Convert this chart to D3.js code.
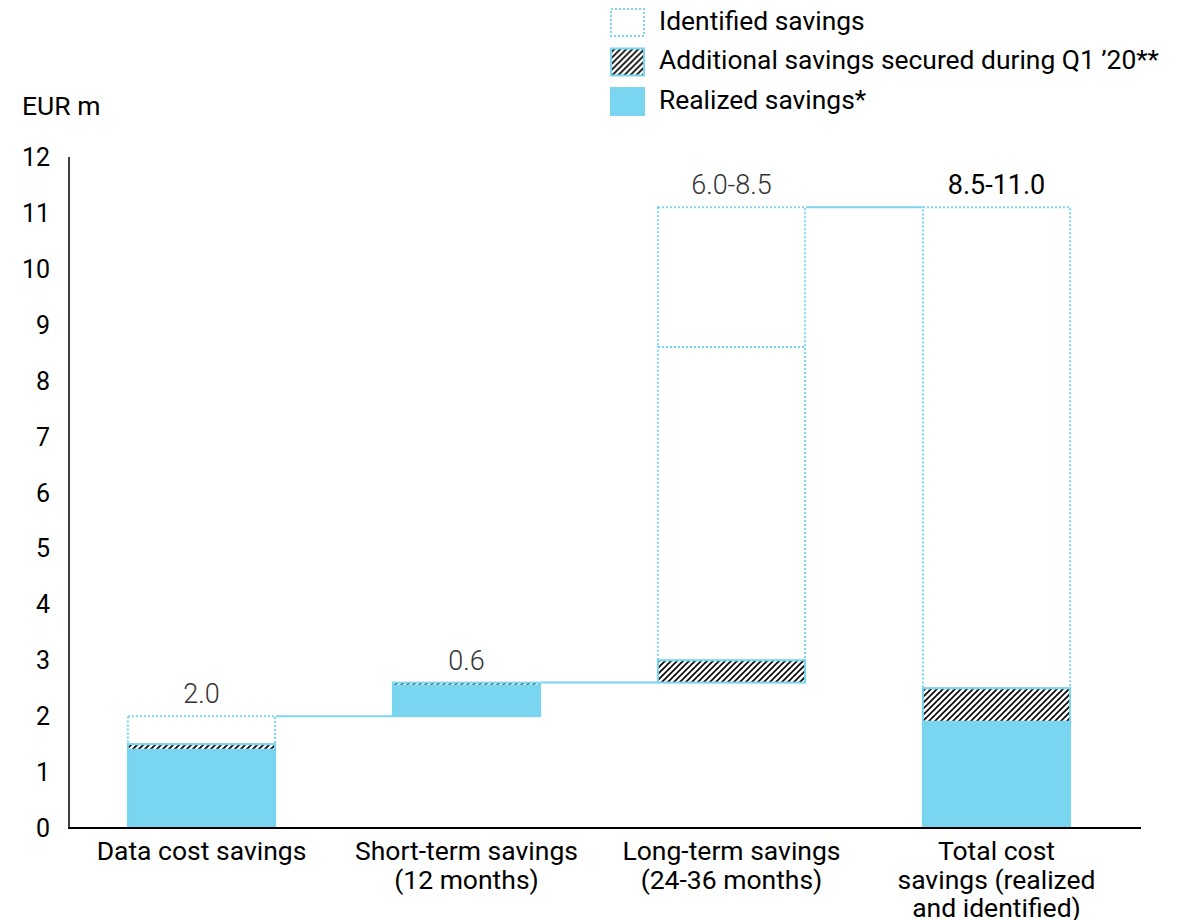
<!DOCTYPE html>
<html>
<head>
<meta charset="utf-8">
<script src="https://cdn.jsdelivr.net/npm/d3@7"></script>
<style>
  html, body { margin: 0; padding: 0; background: #fff; }
  svg { display: block; font-family: Roboto, "Noto Sans", sans-serif; }
</style>
</head>
<body>
<svg id="chart" width="1185" height="920"></svg>
<script>
// Cost savings bridge, EUR m
const categories = [
  ["Data cost savings"],
  ["Short-term savings", "(12 months)"],
  ["Long-term savings", "(24-36 months)"],
  ["Total cost", "savings (realized", "and identified)"]
];
const bases       = [0, 2.0, 2.6, 0];     // floating start of each bar
const realized    = [1.4, 0.55, 0, 1.9];  // realized savings*
const additional  = [0.1, 0.05, 0.4, 0.6];// additional savings secured during Q1 '20**
const identified  = [0.5, 0, 5.6, 8.6];   // identified savings (lower bound part)
const rangeUpper  = [0, 0, 2.5, 0];       // identified range on top of the lower bound
const valueLabels = ["2.0", "0.6", "6.0-8.5", "8.5-11.0"];
const yTicks      = [0, 1, 2, 3, 4, 5, 6, 7, 8, 9, 10, 11, 12];

const legendItems = [
  { key: "identified", label: "Identified savings" },
  { key: "additional", label: "Additional savings secured during Q1 \u201920**" },
  { key: "realized",   label: "Realized savings*" }
];

const BLUE = "#79d5f0";

const svg = d3.select("#chart");

const y = d3.scaleLinear().domain([0, 12]).range([828, 157]);
const x = d3.scaleBand()
  .domain(d3.range(categories.length))
  .range([69, 1129])
  .paddingInner(0.437)
  .paddingOuter(0.2185);

// hatch pattern
const defs = svg.append("defs");
const pat = defs.append("pattern")
  .attr("id", "hatch")
  .attr("patternUnits", "userSpaceOnUse")
  .attr("width", 6).attr("height", 6);
pat.append("rect").attr("width", 6).attr("height", 6).attr("fill", "#fff");
pat.append("path")
  .attr("d", "M-1,1 l2,-2 M0,6 l6,-6 M5,7 l2,-2")
  .attr("stroke", "#000").attr("stroke-width", 1.6);

// segments computed from data
const segs = [];
categories.forEach((c, i) => {
  let v = bases[i];
  if (realized[i] > 0) { segs.push({ i, y0: v, y1: v + realized[i], type: "realized" }); v += realized[i]; }
  if (additional[i] > 0) { segs.push({ i, y0: v, y1: v + additional[i], type: "additional" }); v += additional[i]; }
  if (identified[i] > 0) { segs.push({ i, y0: v, y1: v + identified[i], type: "identified" }); v += identified[i]; }
  if (rangeUpper[i] > 0) { segs.push({ i, y0: v, y1: v + rangeUpper[i], type: "identified" }); v += rangeUpper[i]; }
});
const tops = categories.map((c, i) => bases[i] + realized[i] + additional[i] + identified[i] + rangeUpper[i]);

// connectors between bars
const connG = svg.append("g");
for (let i = 0; i < categories.length - 1; i++) {
  connG.append("line")
    .attr("x1", x(i) + x.bandwidth()).attr("x2", x(i + 1))
    .attr("y1", y(tops[i])).attr("y2", y(tops[i]))
    .attr("stroke", BLUE).attr("stroke-width", 2);
}

const barG = svg.append("g");
segs.forEach(s => {
  const r = barG.append("rect")
    .attr("x", x(s.i) + 1)
    .attr("width", x.bandwidth() - 2)
    .attr("y", y(s.y1))
    .attr("height", y(s.y0) - y(s.y1));
  if (s.type === "realized") {
    r.attr("fill", BLUE).attr("stroke", BLUE).attr("stroke-width", 2);
  } else if (s.type === "additional") {
    r.attr("fill", "url(#hatch)").attr("stroke", BLUE).attr("stroke-width", 2);
  } else {
    r.attr("fill", "none").attr("stroke", BLUE).attr("stroke-width", 2)
      .attr("stroke-dasharray", "2,2");
  }
});

// value labels
svg.append("g").selectAll("text")
  .data(valueLabels)
  .join("text")
  .attr("x", (d, i) => x(i) + x.bandwidth() / 2)
  .attr("y", (d, i) => y(tops[i]) - 13)
  .attr("text-anchor", "middle")
  .attr("font-size", 27)
  .attr("font-weight", (d, i) => i === 3 ? 400 : 300)
  .attr("fill", (d, i) => i === 3 ? "#000" : "#333")
  .text(d => d);

// axes
svg.append("line")
  .attr("x1", 69).attr("x2", 69)
  .attr("y1", y(12)).attr("y2", y(0))
  .attr("stroke", "#000").attr("stroke-width", 1.5);
svg.append("line")
  .attr("x1", 68).attr("x2", 1141)
  .attr("y1", y(0)).attr("y2", y(0))
  .attr("stroke", "#000").attr("stroke-width", 2);

svg.append("g").selectAll("text")
  .data(yTicks)
  .join("text")
  .attr("x", 50)
  .attr("y", d => y(d))
  .attr("dy", "0.36em")
  .attr("text-anchor", "end")
  .attr("font-size", 25)
  .attr("fill", "#000")
  .text(d => d);

svg.append("text")
  .attr("x", 22).attr("y", 115)
  .attr("font-size", 26.5)
  .attr("fill", "#000")
  .text("EUR m");

// category labels
const catG = svg.append("g");
categories.forEach((lines, i) => {
  const t = catG.append("text")
    .attr("x", x(i) + x.bandwidth() / 2)
    .attr("y", 860)
    .attr("text-anchor", "middle")
    .attr("font-size", 26.5)
    .attr("fill", "#000");
  lines.forEach((ln, k) => {
    t.append("tspan")
      .attr("x", x(i) + x.bandwidth() / 2)
      .attr("dy", k === 0 ? 0 : 28.5)
      .text(ln);
  });
});

// legend
const lg = svg.append("g").attr("transform", "translate(610,8)");
legendItems.forEach((it, k) => {
  const g = lg.append("g").attr("transform", `translate(0,${k * 39.5})`);
  const r = g.append("rect").attr("x", 1).attr("y", 1).attr("width", 33).attr("height", 27);
  if (it.key === "identified") {
    r.attr("fill", "none").attr("stroke", BLUE).attr("stroke-width", 2).attr("stroke-dasharray", "2,2");
  } else if (it.key === "additional") {
    r.attr("fill", "url(#hatch)").attr("stroke", BLUE).attr("stroke-width", 2);
  } else {
    r.attr("fill", BLUE).attr("stroke", BLUE).attr("stroke-width", 2);
  }
  g.append("text")
    .attr("x", 49).attr("y", 12)
    .attr("dy", "0.36em")
    .attr("font-size", 26.4)
    .attr("fill", "#000")
    .text(it.label);
});
</script>
</body>
</html>
